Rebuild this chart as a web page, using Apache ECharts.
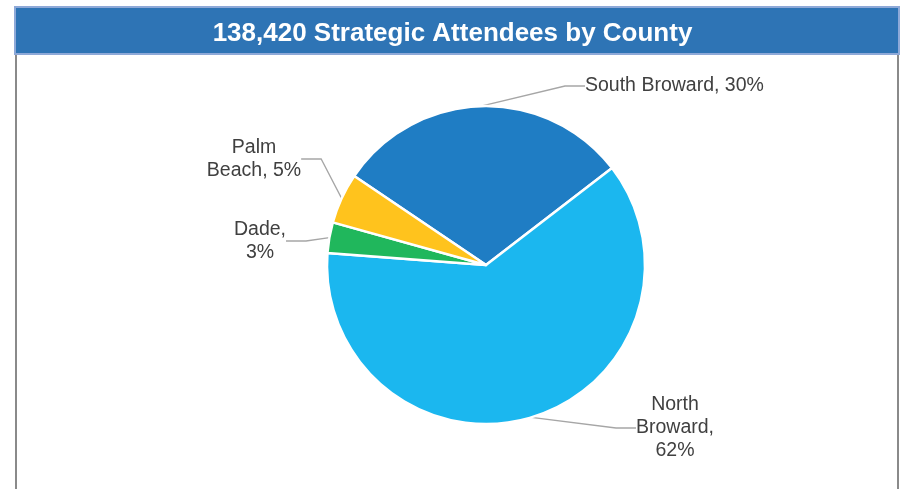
<!DOCTYPE html>
<html>
<head>
<meta charset="utf-8">
<script src="https://cdn.jsdelivr.net/npm/echarts@6/dist/echarts.min.js"></script>
<style>
html,body{margin:0;padding:0;background:#fff;}
#chart{width:905px;height:489px;}
</style>
</head>
<body>
<div id="chart"></div>
<script>
const titleText = '138,420 Strategic Attendees by County';
const categories = ['South Broward', 'North Broward', 'Dade', 'Palm Beach'];
const attendees = [41700, 85320, 4300, 7100];
const sliceColors = ['#1F7DC4', '#1BB7EF', '#20B75C', '#FFC31D'];

// label line-break styles per category (text only)
function labelText(name, pct) {
  if (name === 'South Broward') return name + ', ' + pct + '%';
  if (name === 'North Broward') return 'North\nBroward,\n' + pct + '%';
  if (name === 'Dade') return 'Dade,\n' + pct + '%';
  if (name === 'Palm Beach') return 'Palm\nBeach, ' + pct + '%';
  return name + ', ' + pct + '%';
}

// label anchor positions (layout)
const labelPos = {
  'South Broward': {x: 585, y: 86, align: 'left'},
  'North Broward': {x: 675, y: 428, align: 'center'},
  'Dade': {x: 260, y: 241, align: 'center'},
  'Palm Beach': {x: 254, y: 159, align: 'center'}
};

const FONT = '"Liberation Sans", Arial, sans-serif';

const chart = echarts.init(document.getElementById('chart'));
chart.setOption({
  animation: false,
  title: {
    text: titleText,
    left: 'center',
    top: 16,
    textStyle: {color: '#ffffff', fontFamily: FONT, fontWeight: 'bold', fontSize: 26}
  },
  graphic: [
    {type: 'rect', z: -1, shape: {x: 15, y: 7, width: 884, height: 47}, style: {fill: '#2E74B5', stroke: '#8EA9D8', lineWidth: 2}},
    {type: 'line', shape: {x1: 16, y1: 55, x2: 16, y2: 489}, style: {stroke: '#8A8A8A', lineWidth: 2}},
    {type: 'line', shape: {x1: 898, y1: 55, x2: 898, y2: 489}, style: {stroke: '#8A8A8A', lineWidth: 2}}
  ],
  series: [{
    type: 'pie',
    center: [486, 265],
    radius: 159,
    startAngle: 146,
    clockwise: true,
    data: categories.map((c, i) => ({name: c, value: attendees[i], itemStyle: {color: sliceColors[i]}})),
    itemStyle: {borderColor: '#ffffff', borderWidth: 2.5},
    label: {
      show: true,
      position: 'outside',
      fontFamily: FONT,
      fontSize: 19.5,
      lineHeight: 23,
      color: '#404040',
      formatter: p => labelText(p.name, Math.round(p.percent))
    },
    labelLine: {show: true, length: 15, length2: 20, lineStyle: {color: '#A6A6A6', width: 1.3}},
    labelLayout: function (params) {
      const name = categories[params.dataIndex];
      const pos = labelPos[name];
      return {x: pos.x, y: pos.y, align: pos.align, verticalAlign: 'middle'};
    }
  }]
});
</script>
</body>
</html>
